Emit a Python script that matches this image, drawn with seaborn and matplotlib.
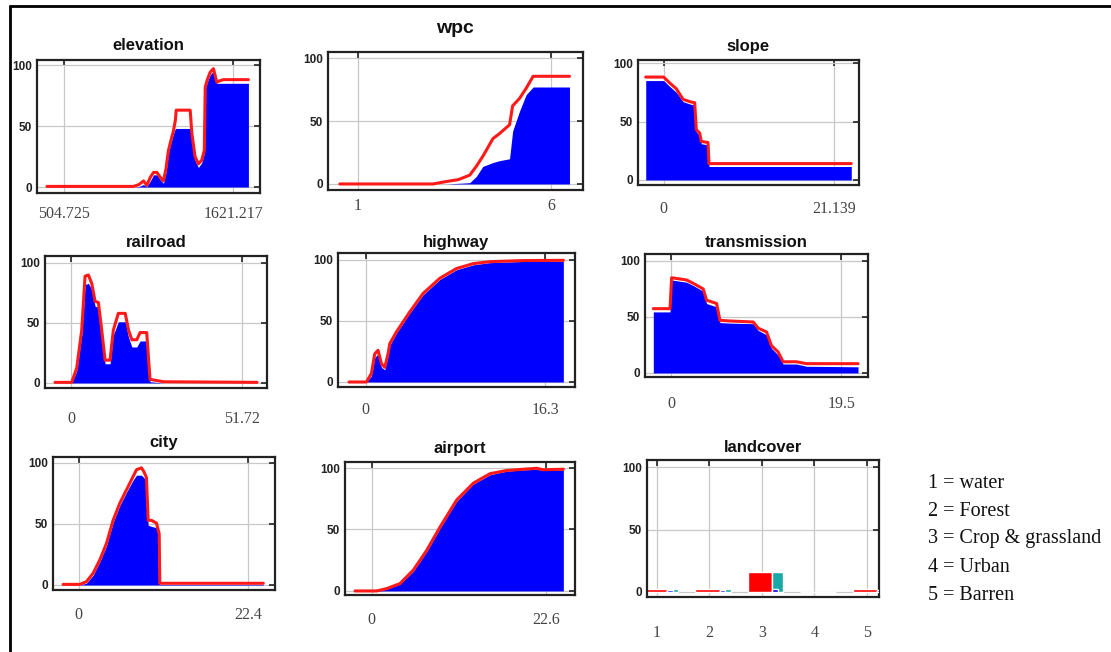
import numpy as np
import matplotlib
matplotlib.use("Agg")
import matplotlib.pyplot as plt
import seaborn as sns
from matplotlib.lines import Line2D

W, H = 1111, 652

# ---- data ----
elev_x = [395, 964, 1000, 1030, 1052, 1075, 1096, 1118, 1140, 1161, 1178, 1194, 1210, 1227, 1240, 1245,
          1337, 1348, 1369, 1391, 1413, 1430, 1436, 1450, 1468, 1490, 1500, 1512, 1530, 1556, 1720]
elev_red = [0.5, 0.5, 2, 5, 1.5, 8, 12, 12, 8, 5, 15, 30, 38, 46, 55, 63,
            63, 44, 25, 19, 22, 30, 82, 88, 94, 97, 92, 86, 87, 88, 88]
elev_blue = [0, 0, 0.5, 2, 0.5, 5, 10, 10, 6, 3, 12, 28, 36, 44, 48, 48,
             48, 40, 22, 16, 20, 28, 80, 86, 92, 95, 90, 85, 85, 85, 85]

wpc_x = [0.53, 2.94, 3.28, 3.6, 3.89, 4.06, 4.23, 4.49, 4.66, 4.92, 5.0, 5.18, 5.35, 5.53, 6.47]
wpc_red = [0, 0, 1.9, 3.5, 7, 14, 22, 36, 40, 47, 62, 68, 76, 85.5, 85.5]
wpc_blue = [0, 0, 0, 0.5, 1, 6, 14, 17, 18.5, 20, 42, 58, 71, 77, 77]

slope_x = [-2.23, 0, 0.74, 1.57, 2.4, 3.23, 3.85, 4.05, 4.47, 4.67, 5.5, 5.63, 23.29]
slope_red = [88, 88, 83, 78, 69, 67, 66, 43, 40, 33, 32, 14, 14]
slope_blue = [85, 85, 80, 75, 67, 65, 64, 41, 38, 31, 30, 11.5, 11.5]

rail_x = [-4.85, 0.2, 1.72, 3.23, 4.24, 5.25, 6.26, 7.27, 8.28, 9.29, 10.3, 11.8, 12.8, 14.3,
          16.4, 17.4, 18.4, 19.9, 20.9, 22.9, 23.9, 28, 56.3]
rail_red = [0.5, 0.5, 12.5, 44, 89, 90, 83, 68, 67, 44, 19, 19, 44, 58,
            58, 44, 36, 36, 42, 42, 3, 1, 0.5]
rail_blue = [0, 0, 10, 40, 82, 83, 78, 64, 63, 40, 16, 16, 40, 51,
             51, 38, 30, 30, 35, 35, 1, 0, 0]

hwy_x = [-1.52, 0.06, 0.52, 0.82, 1.12, 1.43, 1.73, 2.03, 2.19, 2.79, 4.01, 5.22, 6.74, 8.26,
         9.78, 11.29, 14.33, 17.97]
hwy_red = [0, 0, 7, 23, 26, 15, 12, 23, 31.5, 41, 57.5, 72.6, 85, 93, 97, 98.6, 99.5, 99.7]
hwy_blue = [0, 0, 5, 20, 23, 12, 10, 21, 30, 40, 56.5, 71.5, 84, 92, 96, 97.8, 98.8, 99]

trans_x = [-2.02, -0.11, 0.08, 1.79, 2.55, 3.69, 4.07, 5.22, 5.6, 6.74, 9.41, 9.98, 10.93,
           11.5, 12.26, 12.83, 14.36, 15.5, 21.4]
trans_red = [57.4, 57.4, 85, 83, 80, 75, 65, 62, 47, 46.4, 45.5, 40, 36.6, 24.4, 18.75, 10, 10, 8.3, 8.3]
trans_blue = [54.5, 54.5, 83, 81, 78, 73, 62, 59, 45, 44.5, 44, 38, 34, 22, 16, 8, 8, 6, 5.5]

city_x = [-2.07, 0.13, 1.01, 1.9, 2.78, 3.66, 4.54, 5.42, 6.31, 7.19, 7.63, 8.29, 8.6, 8.95,
          9.17, 9.61, 10.27, 10.63, 10.71, 24.38]
city_red = [0.5, 0.5, 2.7, 9.6, 20.5, 34, 53, 67, 78, 89, 94.5, 96, 93, 88, 53, 53, 50.7, 42, 1.4, 1.4]
city_blue = [0, 0, 1.5, 8, 19, 32, 51, 65, 76, 86, 90, 90, 88, 85, 49, 48, 47, 40, 0.5, 0.5]

air_x = [-2.16, 0.65, 1.94, 3.67, 5.4, 7.13, 8.86, 11.02, 13.18, 15.34, 17.5, 19.66, 21.4, 22.2, 24.85]
air_red = [0, 0, 1.9, 6, 17, 33, 52, 74, 87.7, 95.4, 98, 99, 99.8, 98.6, 99]
air_blue = [0, 0, 1.5, 5.5, 16, 32, 51, 73, 87, 94.5, 97.5, 98.5, 99, 98, 98.5]

land_cat = [1, 2, 3, 4, 5]
land_red = [2.5, 2.5, 16, 0, 2.2]
land_cyan = [2.2, 2.2, 16, 0, 0.8]
land_blue = [1.8, 1.8, 2.2, 0, 1.5]
land_names = ["1 = water", "2 = Forest", "3 = Crop & grassland", "4 = Urban", "5 = Barren"]

curves = [
    ("elevation", elev_x, elev_red, elev_blue, [504.725, 1621.217], ["504.725", "1621.217"]),
    ("wpc", wpc_x, wpc_red, wpc_blue, [1, 6], ["1", "6"]),
    ("slope", slope_x, slope_red, slope_blue, [0, 21.139], ["0", "21.139"]),
    ("railroad", rail_x, rail_red, rail_blue, [0, 51.72], ["0", "51.72"]),
    ("highway", hwy_x, hwy_red, hwy_blue, [0, 16.3], ["0", "16.3"]),
    ("transmission", trans_x, trans_red, trans_blue, [0, 19.5], ["0", "19.5"]),
    ("city", city_x, city_red, city_blue, [0, 22.4], ["0", "22.4"]),
    ("airport", air_x, air_red, air_blue, [0, 22.6], ["0", "22.6"]),
]

# ---- layout (pixels): axes box, xlim, ylim, x label pad, title pad ----
boxes = {
    "elevation": (37, 60, 260, 193), "wpc": (328, 52, 583, 190), "slope": (638, 60, 859, 185),
    "railroad": (45, 256, 267, 388), "highway": (338, 253, 575, 387), "transmission": (645, 254, 868, 377),
    "city": (53, 457, 275, 590), "airport": (345, 462, 575, 595), "landcover": (647, 460, 879, 597),
}
xlims = {
    "elevation": (329.6, 1796.2), "wpc": (0.224, 6.82), "slope": (-3.19, 24.25),
    "railroad": (-7.88, 59.3), "highway": (-2.52, 19.03), "transmission": (-2.97, 22.54),
    "city": (-3.4, 25.93), "airport": (-3.46, 26.36), "landcover": (0.81, 5.23),
}
ylims = {
    "elevation": (-4.9, 104.1), "wpc": (-4.8, 104.8), "slope": (-4.3, 102.6),
    "railroad": (-4.2, 105.8), "highway": (-4.1, 105.7), "transmission": (-3.6, 106.2),
    "city": (-4.1, 104.9), "airport": (-3.3, 104.9), "landcover": (-4.0, 105.6),
}
xpad = {"elevation": 13, "wpc": 8, "slope": 16, "railroad": 23, "highway": 15,
        "transmission": 19, "city": 17, "airport": 17, "landcover": 28}
tpad = {"elevation": 10, "wpc": 19, "slope": 9, "railroad": 9, "highway": 6,
        "transmission": 7, "city": 10, "airport": 9, "landcover": 8}

sns.set_theme(style="white")
plt.rcParams["font.family"] = ["Liberation Sans", "DejaVu Sans"]

fig = plt.figure(figsize=(W / 100, H / 100), dpi=100)
fig.patch.set_facecolor("white")


def make_ax(name):
    l, t, r, b = boxes[name]
    ax = fig.add_axes([l / W, 1 - b / H, (r - l) / W, (b - t) / H])
    ax.set_facecolor("white")
    ax.set_axisbelow(True)
    ax.grid(True, color="#c8c8c8", lw=0.9)
    for s in ax.spines.values():
        s.set_visible(True)
        s.set_color("#222222")
        s.set_linewidth(1.6)
    ax.set_xlim(*xlims[name])
    ax.set_ylim(*ylims[name])
    ax.set_yticks([0, 50, 100])
    ax.set_yticklabels(["0", "50", "100"], fontsize=8.5, fontweight="bold", color="#222222")
    ax.tick_params(axis="both", direction="in", top=True, right=True, length=4, width=1.2,
                   color="#222222")
    ax.tick_params(axis="y", pad=3.5)
    ax.tick_params(axis="x", pad=xpad[name] * 0.72)
    ax.set_title(name, fontsize=14 if name == "wpc" else 12, fontweight="bold",
                 pad=tpad[name] * 0.72, color="#111111")
    ax.set_xlabel("")
    ax.set_ylabel("")
    return ax


for name, x, red, blue, ticks, labels in curves:
    ax = make_ax(name)
    ax.fill_between(x, 0, blue, color="#0000ff", lw=0, zorder=2)
    sns.lineplot(x=x, y=red, sort=False, estimator=None, color="#ff1a1a", linewidth=2.2,
                 ax=ax, zorder=3)
    ax.set_xticks(ticks)
    ax.set_xticklabels(labels, family="Liberation Serif", fontsize=11.5, color="#444444")
    ax.set_xlim(*xlims[name])
    ax.set_ylim(*ylims[name])
    ax.set_xlabel("")

ax = make_ax("landcover")
cats = np.array(land_cat)
ax.bar(cats - 0.27, land_red, width=0.47, align="edge", color="#ff0000", zorder=2)
ax.bar(cats + 0.2, land_cyan, width=0.21, align="edge", color="#1aa9a9", zorder=2)
ax.bar(cats + 0.2, land_blue, width=0.1, align="edge", color="#0000ff", zorder=3)
ax.set_xticks(land_cat)
ax.set_xticklabels([str(c) for c in land_cat], family="Liberation Serif", fontsize=11.5,
                   color="#444444")
ax.set_xlim(*xlims["landcover"])

# legend for land cover classes
for i, txt in enumerate(land_names):
    fig.text(928 / W, 1 - (483 + i * 28) / H, txt, family="Liberation Serif", fontsize=14.5,
             ha="left", va="center", color="#111111")

# frame lines on top and left
fig.add_artist(Line2D([10 / W, 1], [1 - 6 / H, 1 - 6 / H], color="black", lw=2, transform=fig.transFigure))
fig.add_artist(Line2D([10 / W, 10 / W], [0, 1 - 6 / H], color="black", lw=2, transform=fig.transFigure))

fig.savefig("out.png", dpi=100)
